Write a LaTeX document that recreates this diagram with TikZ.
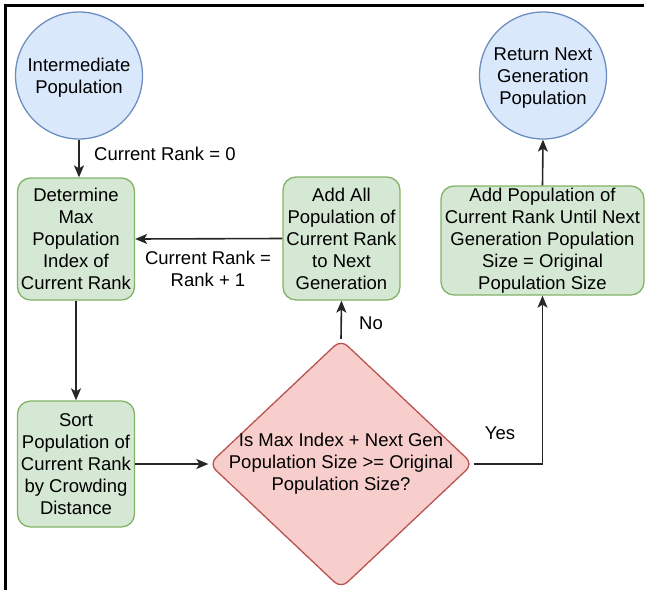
\documentclass[tikz,border=0pt]{standalone}
\usepackage{fontspec}
\setmainfont{Liberation Sans}
\usetikzlibrary{shapes.geometric,arrows.meta}

\definecolor{termfill}{HTML}{DAE8FC}
\definecolor{termline}{HTML}{6C8EBF}
\definecolor{stepfill}{HTML}{D5E8D4}
\definecolor{stepline}{HTML}{82B366}
\definecolor{decfill}{HTML}{F8CECC}
\definecolor{decline}{HTML}{B85450}

\tikzset{
  terminal/.style={circle, draw=termline, fill=termfill, line width=1.3pt,
    minimum size=127pt, inner sep=0pt, align=center},
  stepbox/.style={rectangle, rounded corners=13pt, draw=stepline, fill=stepfill,
    line width=1.3pt, inner sep=0pt, align=center},
  decision/.style={diamond, rounded corners=9pt, draw=decline, fill=decfill,
    line width=1.3pt, inner sep=0pt, minimum width=264pt, minimum height=249pt},
  conn/.style={draw=black!85, line width=1.6pt,
    -{Stealth[length=12pt,width=10pt,inset=3pt]}},
  edgelabel/.style={inner sep=1pt, align=center},
  innertext/.style={align=center, inner sep=0pt},
  frameline/.style={line width=3pt, line cap=rect}
}

\begin{document}
\begin{tikzpicture}[x=1pt, y=-1pt, font=\fontsize{18.5}{22}\selectfont]
\useasboundingbox (0,0) rectangle (647,589);

% outer frame (top and left edges)
\draw[frameline] (5,589) -- (5,5) -- (642,5);

% nodes
\node[terminal] (inpop) at (79,75.5) {};
\node[innertext] (inpoptext) at ([yshift=-2pt]inpop.center) {Intermediate\\Population};
\node[stepbox, minimum width=117pt, minimum height=122pt] (maxidx) at (76,239)
  {Determine\\Max\\Population\\Index of\\Current Rank};
\node[stepbox, minimum width=117pt, minimum height=126pt] (sortpop) at (76,464)
  {Sort\\Population of\\Current Rank\\by Crowding\\Distance};
\node[stepbox, minimum width=117pt, minimum height=123pt] (addall) at (341.5,238.5)
  {Add All\\Population of\\Current Rank\\to Next\\Generation};
\node[stepbox, minimum width=203pt, minimum height=109pt] (addpop) at (542.5,240.5)
  {Add Population of\\Current Rank Until Next\\Generation Population\\Size = Original\\Population Size};
\node[decision] (dec) at (341,464) {};
\node[innertext] (dectext) at (dec.center)
  {Is Max Index + Next Gen\\Population Size >= Original\\Population Size?};
\node[terminal] (ret) at (543,75.5) {};
\node[innertext] (rettext) at ([yshift=-2.5pt]ret.center)
  {Return Next\\Generation\\Population};

% connectors
\draw[conn] (inpop.south) -- (inpop.south |- maxidx.north);
\draw[conn] (maxidx.south) -- (sortpop.north);
\draw[conn] (sortpop.east) -- (dec.west);
\draw[conn] (dec.north) -- (addall.south);
\draw[conn] (addall.west) -- (maxidx.east);
\draw[conn] (dec.east) -| (addpop.south);
\draw[conn] (addpop.north) -- (ret.south);

% connector labels
\node[edgelabel, anchor=west] (lzero) at (93,154) {Current Rank = 0};
\node[edgelabel] (lnext) at (208,269) {Current Rank =\\Rank + 1};
\node[edgelabel] (lno) at (371,323) {No};
\node[edgelabel] (lyes) at (500,433) {Yes};
\end{tikzpicture}
\end{document}
